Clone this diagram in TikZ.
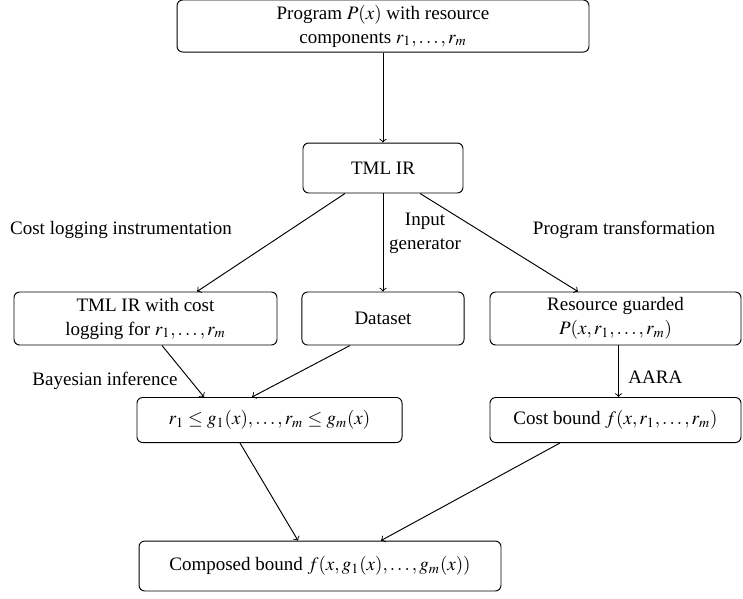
\documentclass[tikz,border=0pt]{standalone}
\usepackage{mathptmx}
\usepackage{fontspec}
\setmainfont{Liberation Serif}
\usetikzlibrary{calc}
\begin{document}
\begin{tikzpicture}[x=0.5263pt,y=-0.5263pt,
  box/.style={draw,rounded corners=3pt,align=center,inner sep=0pt,line width=0.5pt,font=\fontsize{10}{12.6}\selectfont},
  lbl/.style={align=center,inner sep=0pt,font=\fontsize{10}{12.6}\selectfont},
  arr/.style={->,line width=0.5pt}]
\useasboundingbox (0,0) rectangle (743,598);
\node[box,minimum width=216.8pt,minimum height=27.4pt] (top) at (383,26) {Program $P(x)$ with resource\\components $r_1,\ldots,r_m$};
\node[box,minimum width=84.2pt,minimum height=26.3pt] (tml) at (383,168) {TML IR};
\node[box,minimum width=138.4pt,minimum height=27.9pt] (left) at (145.5,318.5) {TML IR with cost\\logging for $r_1,\ldots,r_m$};
\node[box,minimum width=85.3pt,minimum height=27.9pt] (data) at (383,318.5) {Dataset};
\node[box,minimum width=132.1pt,minimum height=27.9pt] (res) at (615.5,318.5) {Resource guarded\\$P(x,r_1,\ldots,r_m)$};
\node[box,minimum width=139.5pt,minimum height=23.7pt] (ineq) at (269.5,420) {$r_1\le g_1(x),\ldots,r_m\le g_m(x)$};
\node[box,minimum width=132.1pt,minimum height=23.7pt] (cost) at (615.5,420) {Cost bound $f(x,r_1,\ldots,r_m)$};
\node[box,minimum width=190.5pt,minimum height=26.3pt] (comp) at (320,566) {Composed bound $f(x,g_1(x),\ldots,g_m(x))$};

\node[lbl] (l1) at (121,230) {Cost logging instrumentation};
\node[lbl] (l2) at (425,233) {Input\\generator};
\node[lbl] (l3) at (624,230) {Program transformation};
\node[lbl] (l4) at (105,381) {Bayesian inference};
\node[lbl,anchor=west] (l5) at (628,377) {AARA};

\draw[arr] (top.south) -- (tml.north);
\draw[arr] ([shift={(-38,0)}]tml.south) -- ([shift={(51.5,0)}]left.north);
\draw[arr] (tml.south) -- (data.north);
\draw[arr] ([shift={(37,0)}]tml.south) -- ([shift={(-37.5,0)}]res.north);
\draw[arr] ([shift={(16.5,0)}]left.south) -- ([shift={(-65.5,0)}]ineq.north);
\draw[arr] ([shift={(-33,0)}]data.south) -- ([shift={(-17.5,0)}]ineq.north);
\draw[arr] ([shift={(3,0)}]res.south) -- ([shift={(3,0)}]cost.north);
\draw[arr] ([shift={(-29.5,0)}]ineq.south) -- ([shift={(-22,0)}]comp.north);
\draw[arr] ([shift={(-55.5,0)}]cost.south) -- ([shift={(61,0)}]comp.north);
\end{tikzpicture}
\end{document}
